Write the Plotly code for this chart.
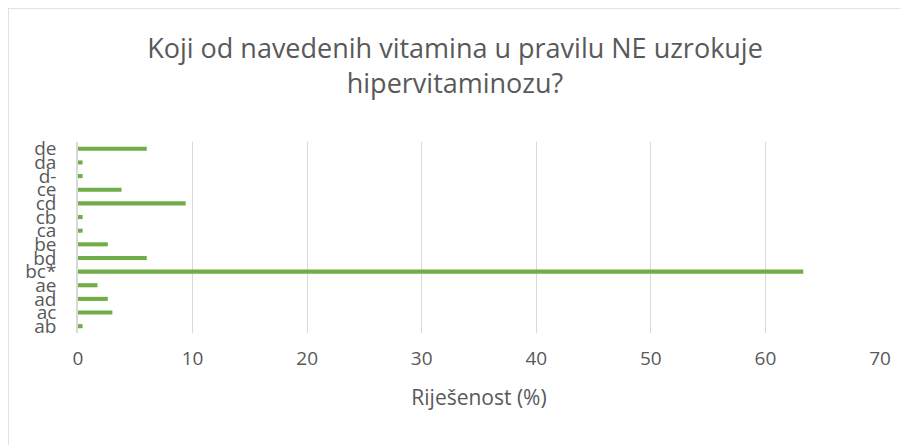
import plotly.graph_objects as go

categories = ["ab", "ac", "ad", "ae", "bc*", "bd", "be", "ca", "cb", "cd", "ce", "d-", "da", "de"]
values = [0.4, 3.0, 2.6, 1.7, 63.3, 6.0, 2.6, 0.4, 0.4, 9.4, 3.8, 0.4, 0.4, 6.0]
x_ticks = [0, 10, 20, 30, 40, 50, 60, 70]

W, H = 908, 445
ml, mr, mt, mb = 70, 36, 134, 120
pw, ph = W - ml - mr, H - mt - mb

def px_x(p):
    return (p - ml) / pw

def px_y(p):
    return (H - mb - p) / ph

fig = go.Figure(go.Bar(
    x=values, y=categories, orientation="h",
    marker=dict(color="#70ad47", line=dict(width=0)),
))

fig.update_layout(
    width=W, height=H,
    margin=dict(l=ml, r=mr, t=mt, b=mb, autoexpand=False),
    paper_bgcolor="white", plot_bgcolor="white",
    font=dict(family="Open Sans", color="#595959"),
    bargap=0.7,
    showlegend=False,
    title=dict(
        text="Koji od navedenih vitamina u pravilu NE uzrokuje<br>hipervitaminozu?",
        x=447 / W, xanchor="center", xref="container",
        y=1 - 50 / H, yanchor="middle",
        font=dict(size=27, color="#595959", family="Open Sans"),
    ),
    xaxis=dict(
        range=[0, 70], tickmode="array", tickvals=x_ticks, showgrid=True, gridcolor="#d9d9d9", gridwidth=1,
        zeroline=False, showline=False, ticks="", automargin=False,
        tickfont=dict(size=19, color="#595959"), ticklabelstandoff=12,
        title=dict(text="Riješenost (%)", font=dict(size=21, color="#595959"), standoff=20),
    ),
    yaxis=dict(
        tickmode="array", tickvals=categories, ticktext=categories,
        categoryorder="array", categoryarray=categories,
        showgrid=False, zeroline=False, showline=True, linecolor="#d9d9d9", linewidth=1.5,
        ticks="", tickfont=dict(size=19, color="#595959"), ticklabelstandoff=16, automargin=False,
        range=[-0.5, 13.5],
    ),
)

fig.add_shape(type="rect", xref="paper", yref="paper",
              x0=px_x(0), x1=px_x(W + 10), y0=px_y(H + 10), y1=px_y(0),
              line=dict(color="#d9d9d9", width=1.5), fillcolor="rgba(0,0,0,0)", layer="below")

fig.write_html("out.html")
